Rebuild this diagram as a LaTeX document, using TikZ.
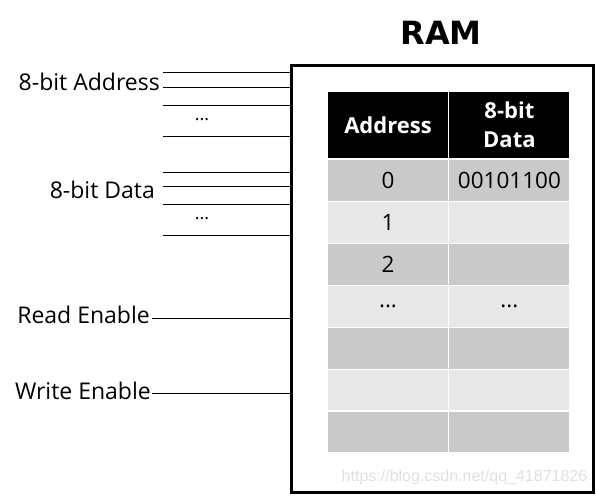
\documentclass[tikz,border=0pt]{standalone}
\usepackage{fontspec}
\setmainfont{Open Sans}
\newfontfamily\titlefont{DejaVu Sans}
\newfontfamily\markfont{Liberation Sans}
\usepackage{xcolor}
\usetikzlibrary{positioning}

\definecolor{rowdark}{HTML}{C9C9C9}
\definecolor{rowlight}{HTML}{E7E7E7}
\definecolor{markgray}{HTML}{E0E0E0}

\begin{document}
\begin{tikzpicture}[
    x=1pt, y=-1pt,
    node distance=1pt,
    cell/.style={rectangle, inner sep=0pt, minimum width=120pt, minimum height=40.5pt, text centered, font=\fontsize{22.5}{26}\selectfont},
    head/.style={cell, fill=black, text=white, minimum height=66pt, align=center, font=\fontsize{22}{29}\selectfont\bfseries},
    dark/.style={cell, fill=rowdark},
    light/.style={cell, fill=rowlight},
    label/.style={anchor=east, inner sep=0pt, font=\fontsize{23}{26}\selectfont},
    dots/.style={inner sep=0pt, font=\fontsize{18}{20}\selectfont},
    wire/.style={line width=0.8pt}
]
\useasboundingbox (0,0) rectangle (596,495);

% RAM block
\node[draw, line width=3pt, minimum width=302pt, minimum height=427pt, inner sep=0pt] (ram) at (442,278.5) {};
\node[font=\titlefont\fontsize{32}{35}\selectfont\bfseries, inner sep=0pt] (title) at (441,33) {RAM};

% Table header
\node[head] (hdaddr) at (388,125) {Address};
\node[head, right=of hdaddr] (hddata) {8-bit\\Data};

% Table rows
\node[dark, below=2pt of hdaddr] (addr0) {0};
\node[dark, right=of addr0] (data0) {00101100};
\node[light, below=of addr0] (addr1) {1};
\node[light, right=of addr1] (data1) {};
\node[dark, below=of addr1] (addr2) {2};
\node[dark, right=of addr2] (data2) {};
\node[light, below=of addr2] (addr3) {...};
\node[light, right=of addr3] (data3) {...};
\node[dark, below=of addr3] (addr4) {};
\node[dark, right=of addr4] (data4) {};
\node[light, below=of addr4] (addr5) {};
\node[light, right=of addr5] (data5) {};
\node[dark, below=of addr5] (addr6) {};
\node[dark, right=of addr6] (data6) {};

% Address bus
\node[label] (addrlbl) at (160,82) {8-bit Address};
\coordinate (abus0) at (163,72);
\coordinate (abus1) at (163,87);
\coordinate (abus2) at (163,105);
\coordinate (abus7) at (163,136);
\node[dots] (adots) at (202,120) {...};
\draw[wire] (abus0) -- (abus0 -| ram.west);
\draw[wire] (abus1) -- (abus1 -| ram.west);
\draw[wire] (abus2) -- (abus2 -| ram.west);
\draw[wire] (abus7) -- (abus7 -| ram.west);

% Data bus
\node[label] (datalbl) at (155,190) {8-bit Data};
\coordinate (dbus0) at (163,172);
\coordinate (dbus1) at (163,186);
\coordinate (dbus2) at (163,204);
\coordinate (dbus7) at (163,235);
\node[dots] (ddots) at (202,219) {...};
\draw[wire] (dbus0) -- (dbus0 -| ram.west);
\draw[wire] (dbus1) -- (dbus1 -| ram.west);
\draw[wire] (dbus2) -- (dbus2 -| ram.west);
\draw[wire] (dbus7) -- (dbus7 -| ram.west);

% Control lines
\node[label] (rdlbl) at (150,315) {Read Enable};
\node[label] (wrlbl) at (151,391) {Write Enable};
\coordinate (rdin) at (152,318);
\coordinate (wrin) at (152,393);
\draw[wire] (rdin) -- (rdin -| ram.west);
\draw[wire] (wrin) -- (wrin -| ram.west);

% Watermark
\node[font=\markfont\fontsize{16}{18}\selectfont, text=markgray, inner sep=0pt] (mark) at (464.5,477) {https://blog.csdn.net/qq\_41871826};

\end{tikzpicture}
\end{document}
